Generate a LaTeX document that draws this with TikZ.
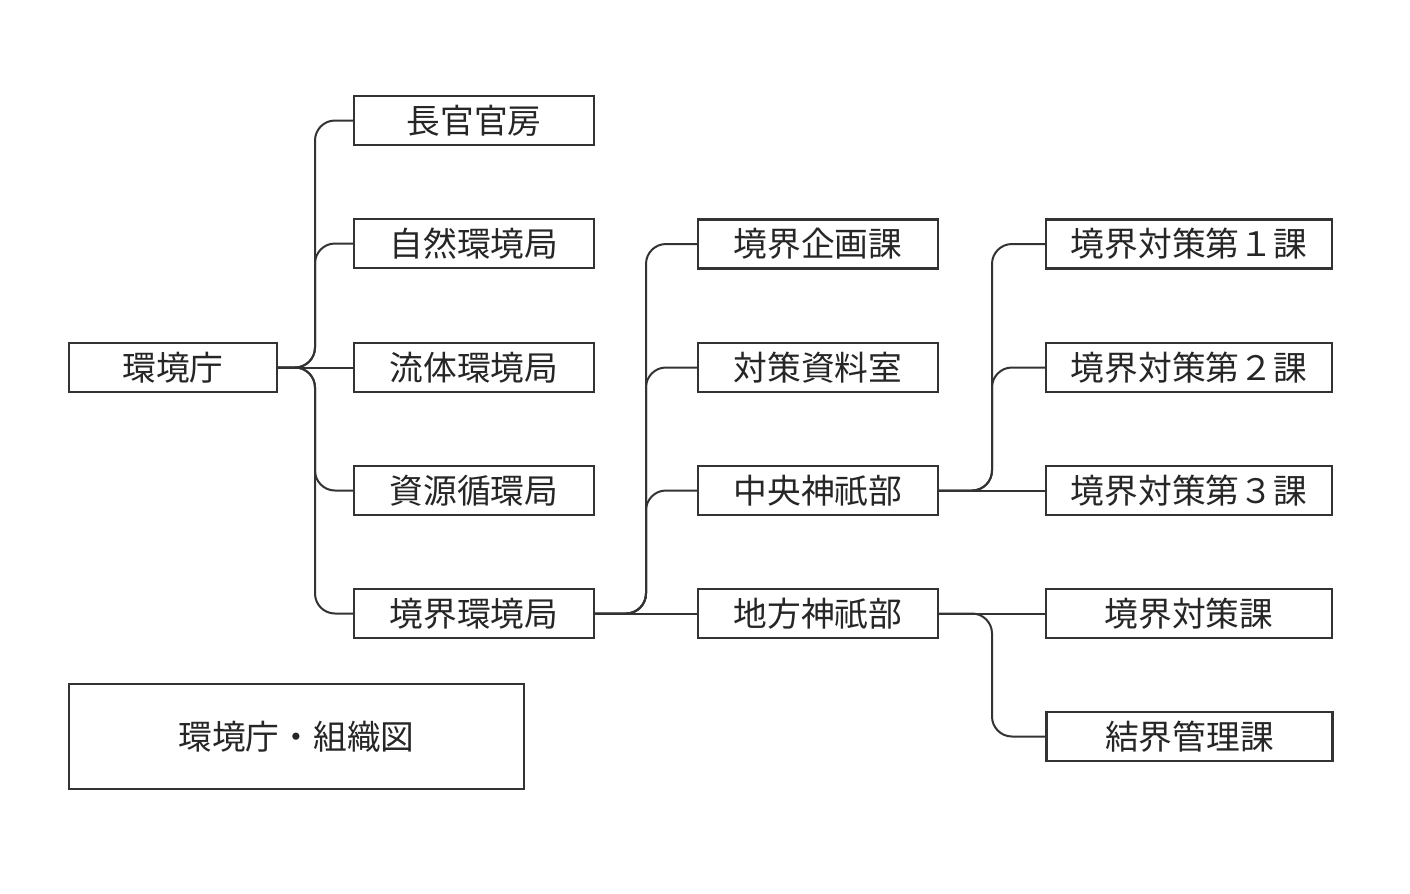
\documentclass[tikz,border=0pt]{standalone}
\usepackage{fontspec}
\setmainfont{Noto Sans CJK JP}
\definecolor{ink}{HTML}{333333}
\begin{document}
\begin{tikzpicture}[x=0.75pt,y=-0.75pt,
  box/.style={draw=ink,line width=1.8pt,minimum height=49*0.75pt,inner sep=0pt,font=\fontsize{25.3pt}{28pt}\selectfont,text=black!85},
  w1/.style={minimum width=240*0.75pt},
  w3/.style={minimum width=286*0.75pt},
  conn/.style={draw=ink,line width=1.5pt,rounded corners=20*0.75pt}]
\useasboundingbox (0,0) rectangle (1410,893);
\node[box,minimum width=208*0.75pt] (root) at (173,367.5) {環境庁};
\node[box,w1] (a1) at (474,120.5) {長官官房};
\node[box,w1] (a2) at (474,243.5) {自然環境局};
\node[box,w1] (a3) at (474,367.5) {流体環境局};
\node[box,w1] (a4) at (474,490.5) {資源循環局};
\node[box,w1] (a5) at (474,613.5) {境界環境局};
\node[box,w1] (b1) at (818,244) {境界企画課};
\node[box,w1] (b2) at (818,367.5) {対策資料室};
\node[box,w1] (b3) at (818,490.5) {中央神祇部};
\node[box,w1] (b4) at (818,613.5) {地方神祇部};
\node[box,w3] (c1) at (1189,244) {境界対策第１課};
\node[box,w3] (c2) at (1189,367.5) {境界対策第２課};
\node[box,w3] (c3) at (1189,490.5) {境界対策第３課};
\node[box,w3] (c4) at (1189,613.5) {境界対策課};
\node[box,w3] (c5) at (1189.5,736.5) {結界管理課};
\node[box,minimum width=455*0.75pt,minimum height=105*0.75pt] (title) at (296.5,736.5) {環境庁・組織図};
\coordinate (j1) at (315,0);
\coordinate (j2) at (646,0);
\coordinate (j3) at (992,0);
\foreach \t in {a1,a2,a4,a5}
  \draw[conn] (root.east) -- (root.east -| j1) |- (\t.west);
\draw[conn] (root.east) -- (a3.west);
\foreach \t in {b1,b2,b3}
  \draw[conn] (a5.east) -- (a5.east -| j2) |- (\t.west);
\draw[conn] (a5.east) -- (b4.west);
\foreach \t in {c1,c2}
  \draw[conn] (b3.east) -- (b3.east -| j3) |- (\t.west);
\draw[conn] (b3.east) -- (c3.west);
\draw[conn] (b4.east) -- (b4.east -| j3) |- (c5.west);
\draw[conn] (b4.east) -- (c4.west);
\end{tikzpicture}
\end{document}
